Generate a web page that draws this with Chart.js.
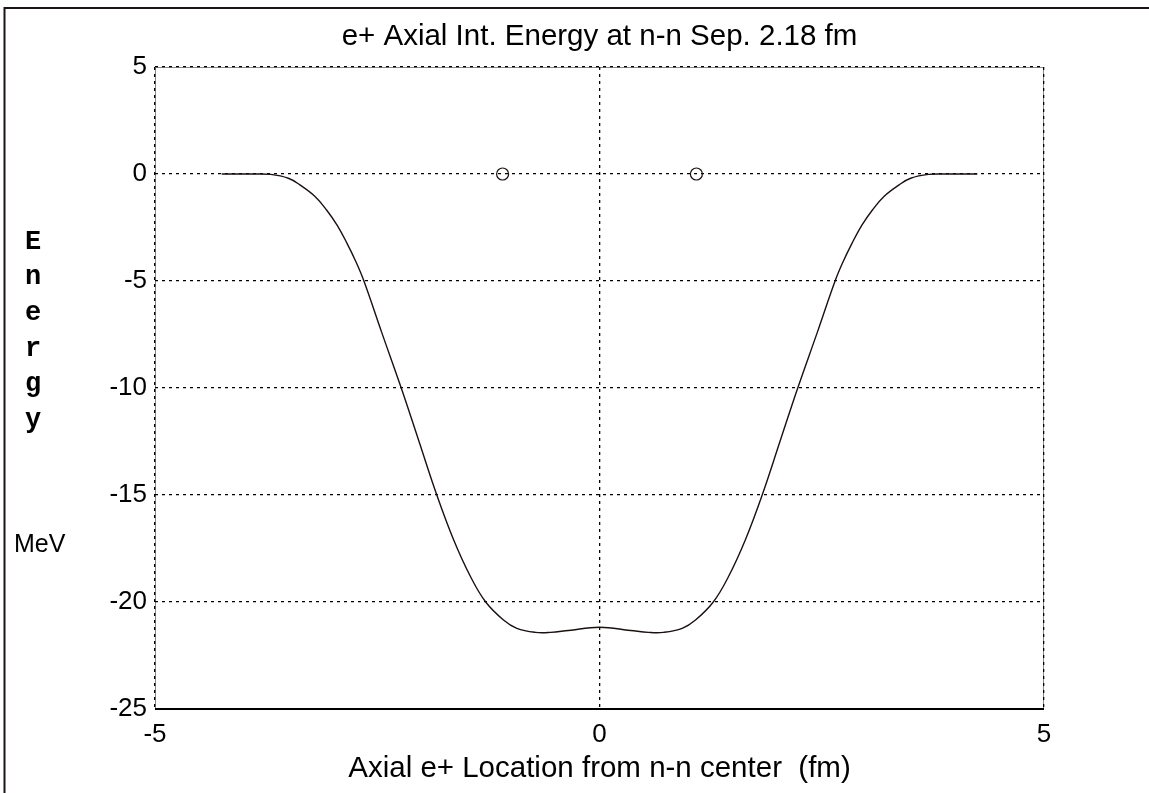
<!DOCTYPE html>
<html>
<head>
<meta charset="utf-8">
<script src="https://cdn.jsdelivr.net/npm/chart.js@4"></script>
<style>
  html, body { margin: 0; padding: 0; background: #fff; }
  #wrap { position: relative; width: 1149px; height: 793px; }
</style>
</head>
<body>
<div id="wrap"><canvas id="chart"></canvas></div>
<script>
// Axial positions (fm) and interaction energy (MeV)
const xPositions = [
    -4.25, -3.9, -3.7, -3.5, -3.37, -3.2, -3.07, -2.95, -2.84, -2.74, -2.65,
    -2.45, -2.23, -2.03, -1.83, -1.64, -1.45, -1.28, -1.08, -0.93, -0.72, -0.55, -0.35, 0,
    0.35, 0.55, 0.72, 0.93, 1.08, 1.28, 1.45, 1.64, 1.83, 2.03, 2.23, 2.45,
    2.65, 2.74, 2.84, 2.95, 3.07, 3.2, 3.37, 3.5, 3.7, 3.9, 4.25
];
const energyValues = [
    0, 0, -0.02, -0.2, -0.51, -1.05, -1.68, -2.4, -3.24, -4.1, -5.0,
    -7.4, -10.0, -12.5, -15.0, -17.1, -18.82, -20.0, -20.84, -21.23, -21.42, -21.42, -21.33, -21.18,
    -21.33, -21.42, -21.42, -21.23, -20.84, -20.0, -18.82, -17.1, -15.0, -12.5, -10.0, -7.4,
    -5.0, -4.1, -3.24, -2.4, -1.68, -1.05, -0.51, -0.2, -0.02, 0, 0
];

// Neutron positions (half of 2.18 fm separation)
const nucleonX = [-1.09, 1.09];
const nucleonY = [0, 0];

const xTicks = [-5, 0, 5];
const yTicks = [5, 0, -5, -10, -15, -20, -25];

const titleText = 'e+ Axial Int. Energy at n-n Sep. 2.18 fm';
const xLabel = 'Axial e+ Location from n-n center  (fm)';
const yLabelLetters = ['E', 'n', 'e', 'r', 'g', 'y'];
const yUnit = 'MeV';

const FONT = '"Liberation Sans", Arial, Helvetica, sans-serif';

// Frame lines, title and the stacked y label, MATLAB style
const framePlugin = {
    id: 'frame',
    beforeDraw(chart) {
        const ctx = chart.ctx;
        const a = chart.chartArea;
        ctx.save();
        // outer figure border
        ctx.strokeStyle = '#1a1414';
        ctx.lineWidth = 2;
        ctx.beginPath();
        ctx.moveTo(4.5, 793);
        ctx.lineTo(4.5, 8);
        ctx.lineTo(1149, 8);
        ctx.stroke();
        // light axes box under the dotted grid
        ctx.strokeStyle = '#888';
        ctx.lineWidth = 1;
        ctx.beginPath();
        ctx.moveTo(a.left + 0.5, a.bottom);
        ctx.lineTo(a.left + 0.5, a.top + 0.5);
        ctx.lineTo(a.right - 0.5, a.top + 0.5);
        ctx.lineTo(a.right - 0.5, a.bottom);
        ctx.stroke();
        ctx.restore();
    },
    afterDraw(chart) {
        const ctx = chart.ctx;
        const a = chart.chartArea;
        ctx.save();
        ctx.strokeStyle = '#000';
        ctx.lineWidth = 2;
        ctx.beginPath();
        ctx.moveTo(a.left, a.bottom);
        ctx.lineTo(a.right, a.bottom);
        ctx.stroke();

        ctx.fillStyle = '#000';
        ctx.textAlign = 'center';
        ctx.textBaseline = 'middle';
        // title centred over the plot box
        ctx.font = '29.5px ' + FONT;
        ctx.fillText(titleText, (a.left + a.right) / 2, 37);

        ctx.font = 'bold 27px "Courier New", "Liberation Mono", monospace';
        yLabelLetters.forEach((ch, i) => {
            ctx.fillText(ch, 33, 242 + i * 35.6);
        });
        ctx.font = '25px ' + FONT;
        ctx.textAlign = 'left';
        ctx.fillText(yUnit, 14, 545);
        ctx.restore();
    }
};

const ctx = document.getElementById('chart');
new Chart(ctx, {
    type: 'scatter',
    data: {
        datasets: [
            {
                label: 'nucleons',
                data: nucleonX.map((x, i) => ({ x: x, y: nucleonY[i] })),
                pointStyle: 'circle',
                pointRadius: 6,
                pointBorderWidth: 1.2,
                pointBorderColor: '#1a1010',
                pointBackgroundColor: 'rgba(0,0,0,0)',
                showLine: false
            },
            {
                label: 'energy',
                data: xPositions.map((x, i) => ({ x: x, y: energyValues[i] })),
                showLine: true,
                borderColor: '#1a1010',
                borderWidth: 1.4,
                pointRadius: 0,
                tension: 0.4,
                fill: false
            }
        ]
    },
    options: {
        responsive: true,
        maintainAspectRatio: false,
        animation: false,
        layout: {
            padding: { top: 67, left: 0, right: 105, bottom: 0 }
        },
        plugins: {
            legend: { display: false },
            tooltip: { enabled: false },
            title: { display: false }
        },
        scales: {
            x: {
                type: 'linear',
                min: -5,
                max: 5,
                afterBuildTicks: scale => { scale.ticks = xTicks.map(v => ({ value: v })); },
                afterFit: scale => { scale.height = 84; },
                grid: { color: '#000', lineWidth: 1.3, drawTicks: false },
                border: { display: false, dash: [3, 4] },
                ticks: {
                    color: '#000',
                    padding: 10,
                    maxRotation: 0,
                    font: { family: FONT, size: 26 }
                },
                title: {
                    display: true,
                    text: xLabel,
                    color: '#000',
                    font: { family: FONT, size: 29.5 },
                    padding: { top: 0, bottom: 6 }
                }
            },
            y: {
                type: 'linear',
                min: -25,
                max: 5,
                afterBuildTicks: scale => { scale.ticks = yTicks.map(v => ({ value: v })); },
                afterFit: scale => { scale.width = 155; },
                grid: { color: '#000', lineWidth: 1.3, drawTicks: false },
                border: { display: false, dash: [3, 4] },
                ticks: {
                    color: '#000',
                    padding: 8,
                    font: { family: FONT, size: 26 }
                }
            }
        }
    },
    plugins: [framePlugin]
});
</script>
</body>
</html>
